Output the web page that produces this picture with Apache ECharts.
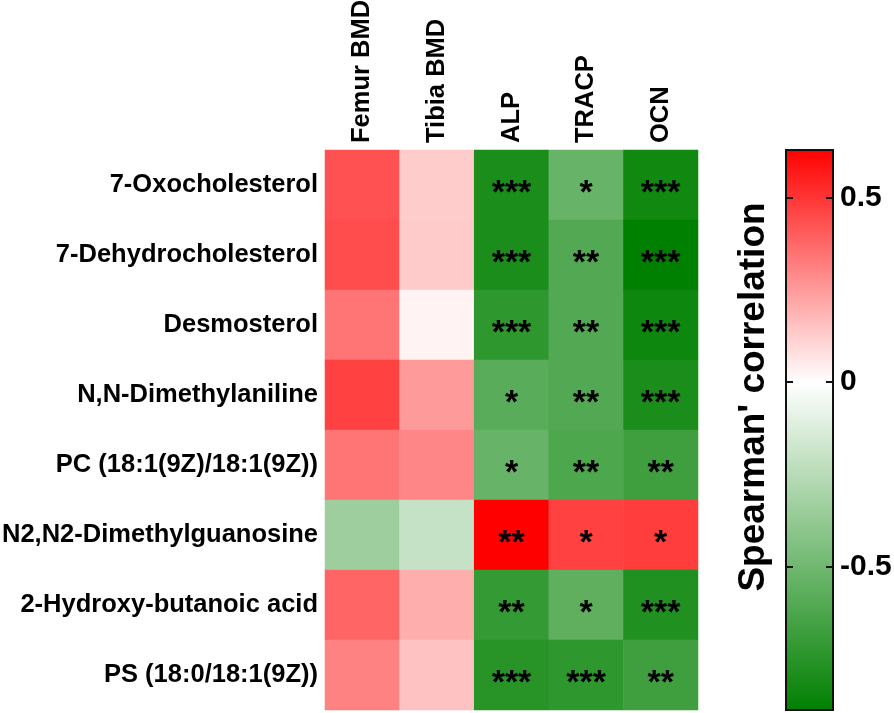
<!DOCTYPE html>
<html>
<head>
<meta charset="utf-8">
<script src="https://cdn.jsdelivr.net/npm/echarts@6/dist/echarts.min.js"></script>
<style>
html,body{margin:0;padding:0;background:#fff;}
#chart{width:894px;height:713px;}
</style>
</head>
<body>
<div id="chart"></div>
<script>
// ---- data ----
const rowLabels = ['7-Oxocholesterol','7-Dehydrocholesterol','Desmosterol','N,N-Dimethylaniline','PC (18:1(9Z)/18:1(9Z))','N2,N2-Dimethylguanosine','2-Hydroxy-butanoic acid','PS (18:0/18:1(9Z))'];
const colLabels = ['Femur BMD','Tibia BMD','ALP','TRACP','OCN'];
const femurBMD = [0.43, 0.44, 0.34, 0.47, 0.34, -0.34, 0.38, 0.31];
const tibiaBMD = [0.125, 0.13, 0.03, 0.25, 0.30, -0.20, 0.20, 0.15];
const alp      = [-0.80, -0.80, -0.73, -0.58, -0.53, 0.63, -0.71, -0.75];
const tracp    = [-0.53, -0.60, -0.60, -0.60, -0.62, 0.47, -0.56, -0.73];
const ocn      = [-0.83, -0.89, -0.84, -0.80, -0.67, 0.48, -0.78, -0.67];
const starsFemur = ['','','','','','','',''];
const starsTibia = ['','','','','','','',''];
const starsALP   = ['***','***','***','*','*','**','**','***'];
const starsTRACP = ['*','**','**','**','**','*','*','***'];
const starsOCN   = ['***','***','***','***','**','*','***','**'];
const colorbarTicks = [-0.5, 0, 0.5];
const VMIN = -0.89, VMAX = 0.63;

const columns = [femurBMD, tibiaBMD, alp, tracp, ocn];
const stars = [starsFemur, starsTibia, starsALP, starsTRACP, starsOCN];

const cells = [];
columns.forEach((col, ci) => col.forEach((v, ri) => cells.push([ci, ri, v, stars[ci][ri]])));

function colorAt(v){
  let r,g,b;
  if (v >= 0){ const t = Math.min(1, v / VMAX); r = 255; g = 255*(1-t); b = 255*(1-t); }
  else { const t = Math.min(1, v / VMIN); r = 255*(1-t); g = 255 - 127*t; b = 255*(1-t); }
  return 'rgb(' + Math.round(r) + ',' + Math.round(g) + ',' + Math.round(b) + ')';
}
const N = 153;
const ramp = [];
for (let i = 0; i < N; i++) ramp.push(colorAt(VMIN + (VMAX - VMIN) * i / (N - 1)));

const FONT = '"Liberation Sans", Arial, sans-serif';
const zeroOff = VMAX / (VMAX - VMIN);

const chart = echarts.init(document.getElementById('chart'));
chart.setOption({
  animation: false,
  backgroundColor: '#ffffff',
  textStyle: { fontFamily: FONT },
  grid: [
    { left: 325, top: 150, width: 373, height: 560, containLabel: false, outerBoundsMode: 'none' },
    { left: 786, top: 150, width: 47, height: 560, show: true, containLabel: false, outerBoundsMode: 'none',
      backgroundColor: { type: 'linear', x: 0, y: 0, x2: 0, y2: 1,
        colorStops: [ { offset: 0, color: '#ff0000' }, { offset: zeroOff, color: '#ffffff' }, { offset: 1, color: '#008000' } ] },
      borderColor: '#111', borderWidth: 2 }
  ],
  xAxis: [
    { type: 'category', gridIndex: 0, data: colLabels, position: 'top',
      axisLine: { show: false }, axisTick: { show: false }, splitLine: { show: false },
      axisLabel: { rotate: -90, margin: 7, color: '#000', fontSize: 25.5, fontWeight: 'bold', fontFamily: FONT } },
    { type: 'value', gridIndex: 1, min: 0, max: 1, show: false }
  ],
  yAxis: [
    { type: 'category', gridIndex: 0, data: rowLabels, inverse: true,
      axisLine: { show: false }, axisTick: { show: false }, splitLine: { show: false },
      axisLabel: { margin: 7, color: '#000', fontSize: 25.5, fontWeight: 'bold', fontFamily: FONT } },
    { type: 'value', gridIndex: 1, min: VMIN, max: VMAX, position: 'left',
      axisLine: { show: true, lineStyle: { color: '#111', width: 2 } },
      axisTick: { show: true, inside: true, length: 7, lineStyle: { color: '#111', width: 2 }, customValues: colorbarTicks },
      axisLabel: { show: false, customValues: colorbarTicks }, splitLine: { show: false } },
    { type: 'value', gridIndex: 1, min: VMIN, max: VMAX, position: 'right',
      axisLine: { show: true, lineStyle: { color: '#111', width: 2 } },
      axisTick: { show: true, inside: true, length: 7, lineStyle: { color: '#111', width: 2 }, customValues: colorbarTicks },
      axisLabel: { show: true, margin: 7, color: '#000', fontSize: 30, fontWeight: 'bold', fontFamily: FONT, customValues: colorbarTicks },
      splitLine: { show: false } }
  ],
  visualMap: { type: 'continuous', show: false, min: VMIN, max: VMAX, dimension: 2, seriesIndex: 0, inRange: { color: ramp } },
  series: [{
    type: 'heatmap', xAxisIndex: 0, yAxisIndex: 0,
    data: cells,
    label: { show: true, formatter: p => p.data[3], color: '#000', fontSize: 34, fontWeight: 'bold', fontFamily: FONT, offset: [0, 9] },
    itemStyle: { borderWidth: 0 },
    emphasis: { disabled: true }
  }],
  graphic: [{
    type: 'text', x: 754, y: 397, rotation: Math.PI / 2,
    style: { text: "Spearman' correlation", fill: '#000', font: 'bold 37px ' + FONT, align: 'center', verticalAlign: 'middle' }
  }]
});
</script>
</body>
</html>
